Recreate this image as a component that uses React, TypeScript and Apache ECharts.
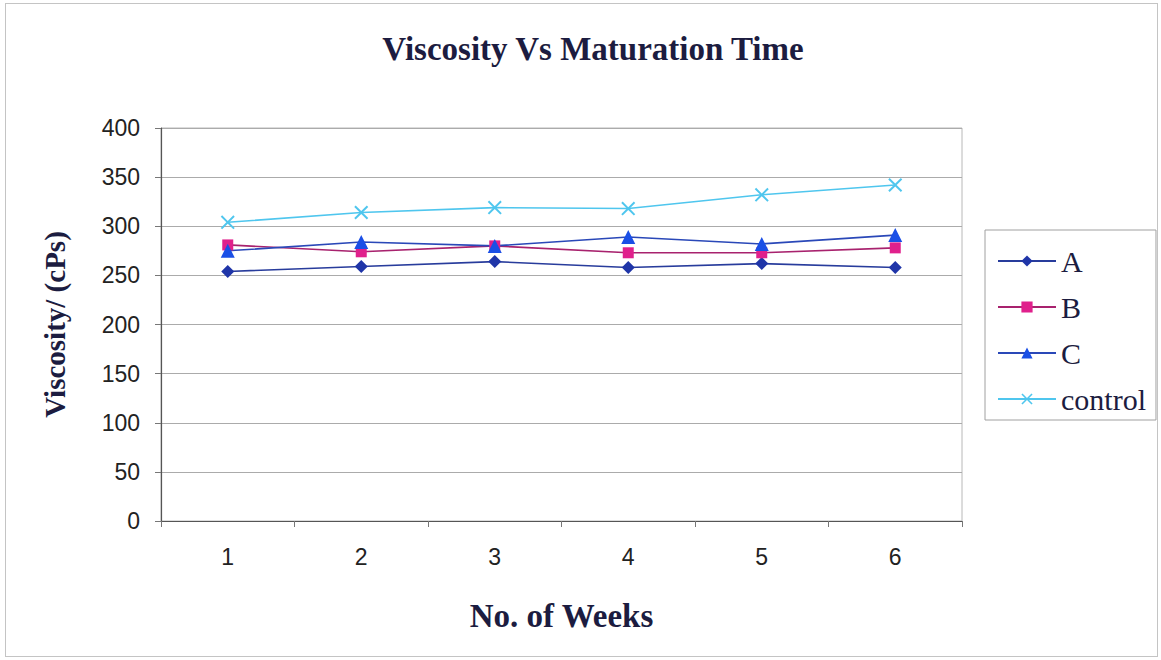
import React, { useEffect, useRef } from "react";
import * as echarts from "echarts";

const weeks = ["1", "2", "3", "4", "5", "6"];
const seriesA = [254, 259, 264, 258, 262, 258];
const seriesB = [281, 274, 280, 273, 273, 278];
const seriesC = [275, 284, 280, 289, 282, 291];
const seriesControl = [304, 314, 319, 318, 332, 342];

const serif = "'Liberation Serif', 'Times New Roman', serif";
const sans = "'Liberation Sans', Arial, sans-serif";
const textColor = "#1c1c40";
const xShape =
  "path://M0,1 L1,0 L5,4 L9,0 L10,1 L6,5 L10,9 L9,10 L5,6 L1,10 L0,9 L4,5 Z";

export default function App() {
  const ref = useRef<HTMLDivElement>(null);
  useEffect(() => {
    if (!ref.current) return;
    const chart = echarts.init(ref.current, undefined, { renderer: "svg" });
    const mk = (
      name: string,
      data: number[],
      lineColor: string,
      markColor: string,
      symbol: string,
      size: number
    ) => ({
      name,
      type: "line",
      data,
      symbol,
      symbolSize: size,
      lineStyle: { color: lineColor, width: 1.6 },
      itemStyle: { color: markColor, borderWidth: 0 },
    });
    chart.setOption({
      animation: false,
      backgroundColor: "transparent",
      title: {
        text: "Viscosity Vs Maturation Time",
        left: 588,
        top: 27,
        textAlign: "center",
        textStyle: {
          fontFamily: serif,
          fontWeight: "bold",
          fontSize: 33,
          color: textColor,
        },
      },
      grid: {
        left: 161,
        right: 199,
        top: 128,
        bottom: 139,
        show: true,
        borderColor: "#b8b8b8",
        borderWidth: 1,
      },
      legend: {
        orient: "vertical",
        left: 985,
        top: 230,
        padding: [16, 10, 6, 12],
        itemGap: 16,
        itemWidth: 58,
        itemHeight: 14,
        borderColor: "#a0a0a0",
        borderWidth: 1,
        textStyle: { fontFamily: serif, fontSize: 30, color: textColor },
        data: ["A", "B", "C", "control"],
      },
      xAxis: {
        type: "category",
        data: weeks,
        boundaryGap: true,
        name: "No. of Weeks",
        nameLocation: "middle",
        nameGap: 78,
        nameTextStyle: {
          fontFamily: serif,
          fontWeight: "bold",
          fontSize: 33,
          color: textColor,
        },
        axisLine: { lineStyle: { color: "#555", width: 1.2 } },
        axisTick: { show: true, length: 6, alignWithLabel: false, lineStyle: { color: "#777" } },
        axisLabel: { fontFamily: sans, fontSize: 23, color: "#222", margin: 24 },
        splitLine: { show: false },
      },
      yAxis: {
        type: "value",
        min: 0,
        max: 400,
        interval: 50,
        name: "Viscosity/ (cPs)",
        nameLocation: "middle",
        nameGap: 92,
        nameRotate: 90,
        nameTextStyle: {
          fontFamily: serif,
          fontWeight: "bold",
          fontSize: 29,
          color: textColor,
        },
        axisLine: { show: true, lineStyle: { color: "#555", width: 1.2 } },
        axisTick: { show: true, length: 6, lineStyle: { color: "#777" } },
        axisLabel: { fontFamily: sans, fontSize: 23, color: "#222", margin: 21 },
        splitLine: { show: true, lineStyle: { color: "#ababab", width: 1 } },
      },
      series: [
        mk("A", seriesA, "#283c9c", "#1f35a8", "diamond", 13),
        mk("B", seriesB, "#a8226e", "#e0208c", "rect", 11),
        mk("C", seriesC, "#2a48b8", "#1a4fe6", "triangle", 14),
        mk("control", seriesControl, "#4fc6ee", "#4fc6ee", xShape, 14),
      ],
    });
    return () => chart.dispose();
  }, []);
  return (
    <div
      style={{
        position: "fixed",
        left: 0,
        top: 0,
        width: 1161,
        height: 660,
        background: "#fff",
      }}
    >
      <div
        style={{
          position: "absolute",
          left: 5,
          top: 3,
          width: 1153,
          height: 654,
          border: "1px solid #c4c4c4",
          boxSizing: "border-box",
        }}
      />
      <div ref={ref} style={{ position: "absolute", left: 0, top: 0, width: 1161, height: 660 }} />
    </div>
  );
}
